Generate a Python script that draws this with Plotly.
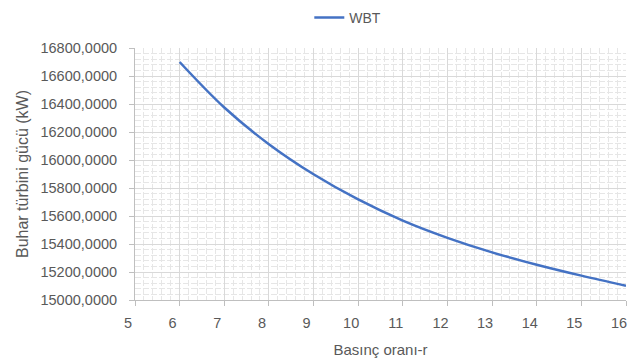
import plotly.graph_objects as go

# Data
pressure_ratio = [6, 7, 8, 9, 10, 11, 12, 13, 14, 15, 16]
wbt_power_kw = [16700, 16375, 16113, 15898, 15718, 15567, 15444, 15340, 15252, 15174, 15102]
series_name = "WBT"
x_title = "Basınç oranı-r"
y_title = "Buhar türbini gücü (kW)"

FONT = "Liberation Sans"
TXT = "#595959"

fig = go.Figure()
fig.add_trace(go.Scatter(
    x=pressure_ratio, y=wbt_power_kw, mode="lines", name=series_name,
    line=dict(color="#4472C4", width=2.5, shape="spline", smoothing=1.0),
))

fig.update_layout(
    width=643, height=364,
    margin=dict(l=135, r=17, t=48, b=64, autoexpand=False),
    paper_bgcolor="white", plot_bgcolor="white",
    separators=",.",
    font=dict(family=FONT, color=TXT, size=14),
    showlegend=True,
    legend=dict(orientation="h", x=0.355, xanchor="left", y=0.995, yanchor="top",
                yref="container", font=dict(family=FONT, size=14, color=TXT)),
)

fig.update_xaxes(
    range=[5, 16], tickmode="linear", tick0=5, dtick=1,
    showgrid=True, gridcolor="#D9D9D9", gridwidth=1,
    showline=True, linecolor="#BFBFBF", linewidth=1,
    ticks="outside", ticklen=5, tickcolor="#BFBFBF",
    ticklabelstandoff=5, ticklabelshift=-7,
    tickfont=dict(family=FONT, size=14.5, color=TXT),
    minor=dict(dtick=0.2, showgrid=True, gridcolor="#E6E6E6", griddash="6px,2px", gridwidth=1),
    title=dict(text=x_title, font=dict(family=FONT, size=15, color=TXT), standoff=14),
    zeroline=False, automargin=False,
)
fig.update_yaxes(
    range=[15000, 16800], tickmode="linear", tick0=15000, dtick=200,
    tickformat=".4f",
    showgrid=True, gridcolor="#D9D9D9", gridwidth=1,
    showline=True, linecolor="#BFBFBF", linewidth=1,
    ticks="outside", ticklen=5, tickcolor="#BFBFBF",
    ticklabelstandoff=9,
    tickfont=dict(family=FONT, size=14.5, color=TXT),
    minor=dict(dtick=40, showgrid=True, gridcolor="#E6E6E6", griddash="6px,2px", gridwidth=1),
    title=dict(text=y_title, font=dict(family=FONT, size=16, color=TXT), standoff=7),
    zeroline=False, automargin=False,
)

fig.write_html("out.html")
